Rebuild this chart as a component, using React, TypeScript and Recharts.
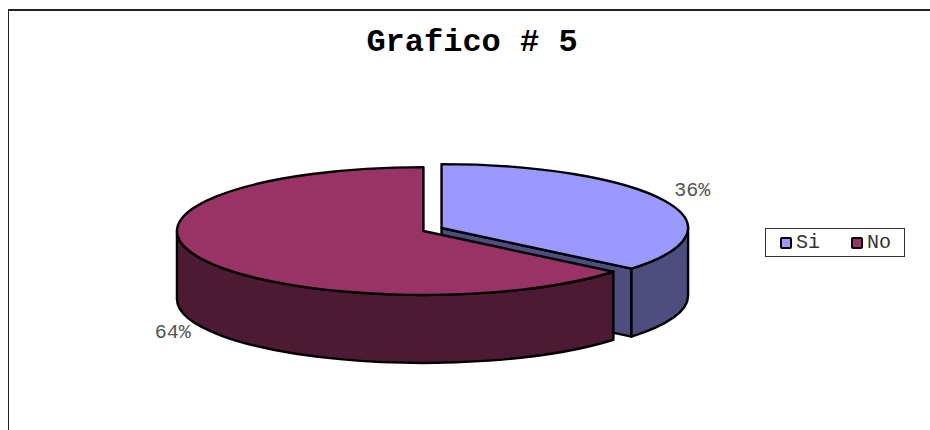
import React from "react";
import { PieChart, Pie, Legend } from "recharts";

// Survey answers, in percent
const categories = ["Si", "No"];
const shares = [36, 64];
const topColors = ["#9999FF", "#993366"];
const wallColors = ["#4D4D80", "#4D1A33"];
const chartTitle = "Grafico # 5";

const rows = categories.map((name, i) => ({
  name,
  value: shares[i],
  fill: topColors[i],
  wall: wallColors[i],
}));

const MONO = '"Liberation Mono", monospace';
const TILT = 64 / 247; // vertical squash of the disc
const DEPTH = 68; // thickness of the disc in px
const EXPLODE = 10; // how far each slice is pulled out

const rad = (deg: number) => (deg * Math.PI) / 180;

// Slice of a tilted disc: cut face, rim and top, painted back to front.
function DiscSlice(props: any) {
  const { cx, cy, outerRadius: rx, startAngle, endAngle, midAngle, fill, wall } = props;
  const ry = rx * TILT;
  const ox = EXPLODE * Math.cos(rad(midAngle));
  const oy = -EXPLODE * TILT * 1.4 * Math.sin(rad(midAngle));
  const px = cx + ox;
  const py = cy + oy;
  const at = (deg: number, drop = 0) =>
    `${(px + rx * Math.cos(rad(deg))).toFixed(2)} ${(py - ry * Math.sin(rad(deg)) + drop).toFixed(2)}`;
  const arc = (from: number, to: number, drop = 0, reverse = false) => {
    const large = Math.abs(from - to) > 180 ? 1 : 0;
    return reverse
      ? `A ${rx} ${ry} 0 ${large} 0 ${at(from, drop)}`
      : `A ${rx} ${ry} 0 ${large} 1 ${at(to, drop)}`;
  };
  const edge = { stroke: "#000", strokeWidth: 2.4, strokeLinejoin: "round" as const };

  const rimFrom = Math.min(startAngle, 0);
  const rimTo = Math.max(endAngle, -180);
  const apex = `${px} ${py}`;
  const apexLow = `${px} ${py + DEPTH}`;
  const endFaces =
    Math.cos(rad(endAngle)) > 0 && Math.sin(rad(endAngle)) < 0;

  return (
    <g>
      {endFaces && (
        <path
          d={`M ${apex} L ${at(endAngle)} L ${at(endAngle, DEPTH)} L ${apexLow} Z`}
          fill={wall}
          {...edge}
        />
      )}
      {rimFrom > rimTo && (
        <path
          d={`M ${at(rimFrom)} ${arc(rimFrom, rimTo)} L ${at(rimTo, DEPTH)} ${arc(rimFrom, rimTo, DEPTH, true)} Z`}
          fill={wall}
          {...edge}
        />
      )}
      <path
        d={`M ${apex} L ${at(startAngle)} ${arc(startAngle, endAngle)} Z`}
        fill={fill}
        {...edge}
      />
    </g>
  );
}

function PercentLabel(props: any) {
  const { cx, cy, midAngle, percent } = props;
  const s = Math.sin(rad(midAngle));
  const x = cx + 287 * Math.cos(rad(midAngle));
  const y = cy - 91 * s + (s < 0 ? DEPTH - 4 : 0);
  return (
    <text
      x={x}
      y={y}
      textAnchor="middle"
      dominantBaseline="central"
      fontFamily={MONO}
      fontSize={20}
      fill="#555"
    >
      {`${Math.round(percent * 100)}%`}
    </text>
  );
}

function LegendBox({ payload }: any) {
  return (
    <div
      style={{
        boxSizing: "border-box",
        width: 140,
        height: 29,
        border: "1px solid #333",
        background: "#fff",
        display: "flex",
        alignItems: "center",
        paddingLeft: 14,
        fontFamily: MONO,
        fontSize: 20,
        color: "#333",
      }}
    >
      {(payload ?? []).map((item: any) => (
        <div key={item.value} style={{ display: "flex", alignItems: "center", flex: "0 0 71px" }}>
          <span
            style={{
              boxSizing: "border-box",
              width: 12,
              height: 12,
              border: "2px solid #000",
              borderRadius: 2,
              background: item.payload?.fill ?? item.color,
              marginRight: 4,
            }}
          />
          {item.value}
        </div>
      ))}
    </div>
  );
}

export default function App() {
  return (
    <div style={{ position: "absolute", left: 0, top: 0, width: 930, height: 430, background: "#fff", overflow: "hidden" }}>
      <div
        style={{
          position: "absolute",
          left: 8,
          top: 9,
          width: 922,
          height: 421,
          borderTop: "2px solid #222",
          borderLeft: "1px solid #222",
          boxSizing: "border-box",
        }}
      />
      <div style={{ position: "absolute", left: 0, top: 0 }}>
        <PieChart width={930} height={430} margin={{ top: 0, right: 0, bottom: 0, left: 0 }}>
          <text
            x={472}
            y={42}
            textAnchor="middle"
            dominantBaseline="central"
            fontFamily={MONO}
            fontWeight="bold"
            fontSize={32}
            fill="#000"
          >
            {chartTitle}
          </text>
          <Pie
            data={rows}
            dataKey="value"
            nameKey="name"
            cx={432.5}
            cy={229.5}
            innerRadius={0}
            outerRadius={246.5}
            startAngle={90}
            endAngle={-270}
            paddingAngle={0}
            isAnimationActive={false}
            shape={DiscSlice}
            label={PercentLabel}
            labelLine={false}
          />
          <Legend
            content={LegendBox}
            layout="horizontal"
            align="center"
            verticalAlign="middle"
            itemSorter={null}
            wrapperStyle={{ position: "absolute", left: 765, top: 228, width: 140, height: 29 }}
          />
        </PieChart>
      </div>
    </div>
  );
}
